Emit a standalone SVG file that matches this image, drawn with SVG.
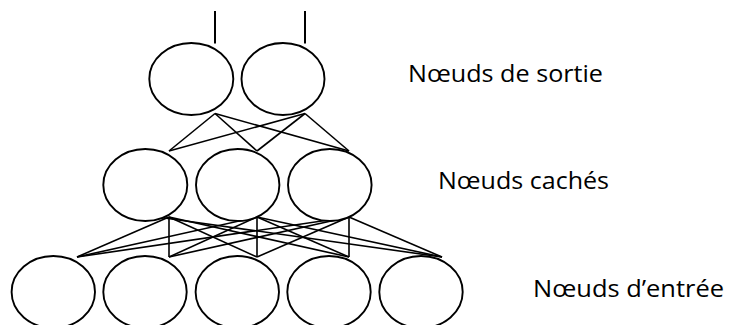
<svg xmlns="http://www.w3.org/2000/svg" width="730" height="325" viewBox="0 0 730 325">
<style>
.n{fill:#fff;stroke:#000;stroke-width:1.9}
.c line{stroke:#000;stroke-width:1.6}
.c line.v{stroke-width:2}
.t{font-family:"Open Sans","Liberation Sans",sans-serif;font-size:24.5px;fill:#000}
</style>
<rect width="730" height="325" fill="#fff"/>
<g class="c" id="connectors">
<line class="v" x1="215" y1="11" x2="215" y2="43.5"/>
<line class="v" x1="305" y1="11" x2="305" y2="43.5"/>
<line x1="215" y1="113.5" x2="169" y2="151"/>
<line x1="215" y1="113.5" x2="257" y2="151"/>
<line x1="215" y1="113.5" x2="349" y2="151"/>
<line x1="305" y1="113.5" x2="169" y2="151"/>
<line x1="305" y1="113.5" x2="257" y2="151"/>
<line x1="305" y1="113.5" x2="349" y2="151"/>
<line x1="169" y1="217" x2="77" y2="257"/>
<line x1="169" y1="217" x2="169" y2="257"/>
<line x1="169" y1="217" x2="257" y2="257"/>
<line x1="169" y1="217" x2="349" y2="257"/>
<line x1="154" y1="216.5" x2="442" y2="257"/>
<line x1="257" y1="217" x2="77" y2="257"/>
<line x1="257" y1="217" x2="169" y2="257"/>
<line x1="257" y1="217" x2="257" y2="257"/>
<line x1="257" y1="217" x2="349" y2="257"/>
<line x1="257" y1="217" x2="442" y2="257"/>
<line x1="349" y1="217" x2="77" y2="257"/>
<line x1="349" y1="217" x2="169" y2="257"/>
<line x1="349" y1="217" x2="257" y2="257"/>
<line x1="349" y1="217" x2="349" y2="257"/>
<line x1="349" y1="217" x2="442" y2="257"/>
</g>
<g id="out1"><ellipse class="n" cx="191.3" cy="79" rx="42" ry="36"/></g>
<g id="out2"><ellipse class="n" cx="283" cy="79" rx="41.5" ry="36"/></g>
<g id="hid1"><ellipse class="n" cx="145.3" cy="185" rx="42" ry="36"/></g>
<g id="hid2"><ellipse class="n" cx="237.7" cy="185" rx="41.7" ry="36"/></g>
<g id="hid3"><ellipse class="n" cx="329.8" cy="185" rx="41.8" ry="36"/></g>
<g id="in1"><ellipse class="n" cx="53.3" cy="292" rx="41.7" ry="36"/></g>
<g id="in2"><ellipse class="n" cx="145" cy="292" rx="41.7" ry="36"/></g>
<g id="in3"><ellipse class="n" cx="237.3" cy="292" rx="41.7" ry="36"/></g>
<g id="in4"><ellipse class="n" cx="329" cy="292" rx="41.7" ry="36"/></g>
<g id="in5"><ellipse class="n" cx="421" cy="292" rx="41.7" ry="36"/></g>
<g id="labels">
<text class="t" x="408" y="82" textLength="195" lengthAdjust="spacingAndGlyphs">Nœuds de sortie</text>
<text class="t" x="438" y="188.5" textLength="171" lengthAdjust="spacingAndGlyphs">Nœuds cachés</text>
<text class="t" x="533" y="297" textLength="191" lengthAdjust="spacingAndGlyphs">Nœuds d’entrée</text>
</g>
</svg>
